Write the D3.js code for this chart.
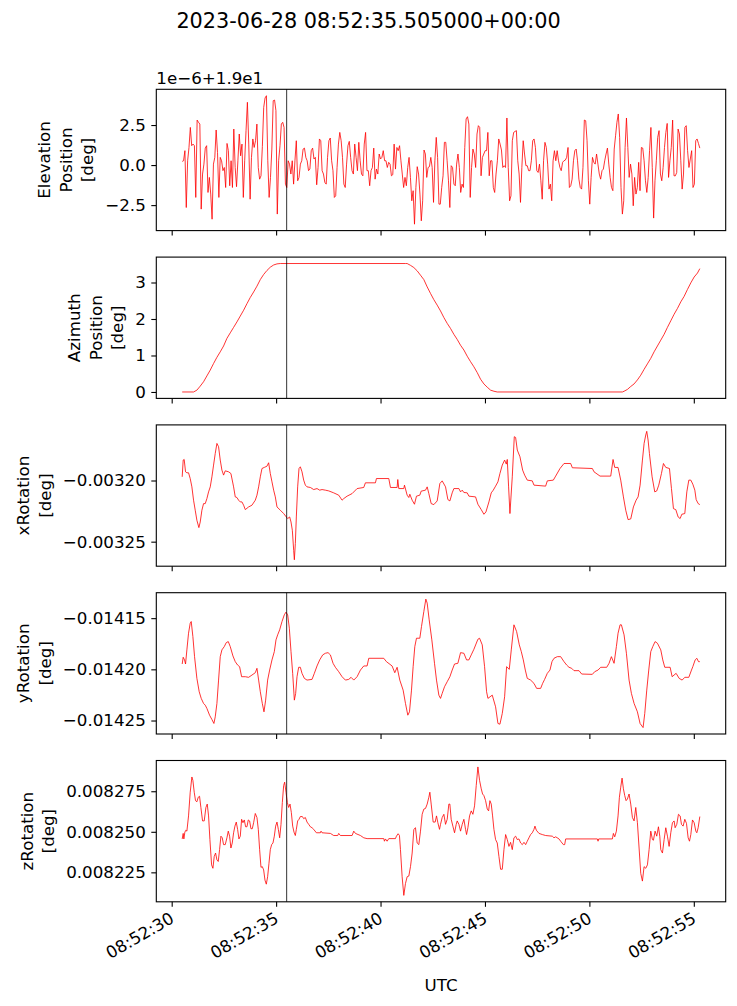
<!DOCTYPE html>
<html lang="en">
<head>
<meta charset="UTF-8">
<title>Mount position and rotation around 08:52:35</title>
<script src="https://d3js.org/d3.v7.min.js"></script>
<style>
  body { margin: 0; background: #fff; }
  svg { display: block; font-family: "DejaVu Sans", sans-serif; }
</style>
</head>
<body>
<svg id="chart" width="737" height="1006"></svg>
<script>
// time origin 2023-06-28 08:52:30 UTC, all times below are seconds after it
const t0 = Date.UTC(2023, 5, 28, 8, 52, 30);
const markerSec = 5.505;
const titleText = "2023-06-28 08:52:35.505000+00:00";
const xTickSecs = [0, 5, 10, 15, 20, 25];

// elevation, 1e-6 deg above 19 deg, evenly sampled between these two times
const elevFirst = 0.503, elevLast = 25.288;
const elevation = [
  0.23,0.27,0.90,-2.65,0.27,1.10,2.35,1.21,1.31,1.21,
  -2.02,2.81,2.67,2.56,-2.75,-0.56,0.06,1.06,1.21,-1.71,
  -0.77,-1.81,-3.38,0.06,0.48,2.19,0.79,-2.02,0.48,0.27,
  -0.35,-0.15,-1.40,1.35,0.90,-1.29,0.27,-1.40,2.25,-0.15,
  -1.35,0.27,1.94,0.58,1.31,-2.02,0.27,2.15,3.92,1.31,
  -2.13,0.48,1.63,1.10,1.52,2.56,-0.15,-0.88,-0.67,1.15,
  3.60,4.19,4.33,0.27,-2.02,-0.77,1.00,4.02,4.06,3.40,
  -3.06,0.27,1.21,2.56,2.67,2.35,-1.19,-1.40,0.27,0.06,
  -0.56,0.27,-1.19,0.27,1.52,-0.98,-0.77,0.06,0.27,1.00,
  1.06,0.48,0.27,-0.35,-0.25,0.90,1.06,0.38,0.48,-1.23,
  -0.15,1.63,1.52,-0.35,-0.56,-1.08,-1.19,0.48,1.52,1.69,
  0.27,-0.35,-2.02,-1.92,-0.15,1.31,2.04,1.52,0.48,-1.19,
  -1.40,0.06,1.21,1.48,0.48,-0.35,-0.56,1.31,0.48,-0.35,
  1.42,
  0.27,-0.56,-0.67,1.31,2.04,-0.35,-0.35,-1.29,-0.35,-0.15,
  1.06,-0.88,-0.25,-0.56,0.69,0.38,0.48,0.90,0.27,0.27,
  -0.15,0.17,0.06,-0.67,-0.60,1.31,-0.25,1.10,0.90,1.21,
  0.27,-0.56,-1.40,-0.77,-1.29,-0.15,0.48,-0.77,-2.23,-1.60,
  -3.69,-1.40,-0.10,-0.56,-1.81,-3.48,-2.23,0.94,0.69,-0.77,
  -0.15,-0.10,0.48,-0.15,-2.33,0.27,1.73,0.48,-2.44,-2.44,
  -1.40,-0.67,1.42,1.42,0.27,-0.98,-2.65,-0.04,-0.15,-1.19,
  -1.29,0.06,0.69,-0.15,-1.71,-1.19,-1.40,1.10,2.88,3.02,
  2.56,-2.02,-0.15,1.00,0.69,-0.15,1.94,2.46,2.35,-0.67,
  0.48,0.69,0.90,0.90,2.04,-0.67,0.27,0.27,-1.40,-1.71,
  -0.56,0.27,1.63,1.31,0.94,-0.15,-0.04,-0.15,2.94,-0.15,
  -2.23,-1.92,1.52,2.04,2.10,2.15,0.27,-0.56,-2.33,-0.15,
  1.52,0.69,-0.04,-0.04,-0.35,-0.35,0.27,1.52,1.63,1.10,
  -0.35,-0.46,0.06,-0.98,-2.13,0.27,1.42,1.10,0.06,-1.50,
  -1.19,-2.23,0.27,0.90,0.27,0.90,0.27,-0.15,-0.35,0.17,
  0.27,0.31,0.48,1.10,-1.40,-1.29,-0.88,0.27,0.90,1.00,
  0.27,-0.88,-1.40,-1.50,-0.15,2.81,2.77,1.52,-0.98,-2.44,
  -0.77,0.48,0.17,0.06,0.69,0.06,-0.56,-0.88,-0.35,-0.25,
  0.27,0.69,1.06,0.06,-0.77,-1.40,-1.60,1.00,1.83,2.67,
  3.19,1.73,-1.40,-3.06,-2.23,1.10,2.94,1.10,-0.77,0.06,
  -0.56,-2.54,-0.77,-1.81,-1.40,0.17,-1.60,1.10,1.06,0.27,
  -0.98,-1.71,-0.77,0.90,2.35,-0.15,-3.31,-0.98,0.27,1.73,
  2.15,-0.56,-0.98,-0.15,1.10,2.04,2.60,-0.77,0.27,1.10,
  2.81,-0.67,-0.67,-0.46,2.25,1.94,0.27,-1.50,-0.56,2.35,
  2.46,0.90,-0.15,0.38,0.90,-1.40,-1.19,1.52,1.63,1.35,
  1.06
];

// [seconds, deg]
const azimuth = [
  [0.503,0],[1.047,0],[1.206,0.05],[1.366,0.16],[1.526,0.28],[1.686,0.44],[1.846,0.60],
  [2.005,0.78],[2.165,0.95],[2.325,1.10],[2.485,1.26],[2.645,1.47],[2.804,1.62],[2.964,1.77],
  [3.124,1.92],[3.284,2.08],[3.444,2.24],[3.604,2.42],[3.763,2.59],[3.923,2.74],[4.083,2.90],
  [4.243,3.08],[4.403,3.22],[4.562,3.33],[4.722,3.42],[4.882,3.48],[5.042,3.51],[5.202,3.52],
  [11.194,3.52],[11.274,3.52],[11.434,3.47],[11.594,3.41],[11.753,3.32],[11.913,3.20],
  [12.073,3.08],[12.233,2.88],[12.393,2.70],[12.552,2.53],[12.712,2.38],[12.872,2.22],
  [13.032,2.04],[13.192,1.88],[13.352,1.74],[13.511,1.58],[13.671,1.44],[13.831,1.28],
  [13.991,1.15],[14.151,0.98],[14.310,0.83],[14.470,0.69],[14.630,0.53],[14.790,0.35],
  [14.950,0.22],[15.110,0.13],[15.269,0.05],[15.429,0.02],[15.589,0],[21.580,0],
  [21.660,0.02],[21.820,0.07],[21.979,0.15],[22.139,0.22],[22.299,0.33],[22.459,0.46],
  [22.619,0.62],[22.778,0.77],[22.938,0.92],[23.098,1.10],[23.258,1.26],[23.418,1.42],
  [23.578,1.58],[23.737,1.77],[23.897,1.95],[24.057,2.13],[24.217,2.29],[24.377,2.47],
  [24.537,2.62],[24.696,2.81],[24.856,2.99],[25.016,3.15],[25.176,3.26],[25.288,3.38]
];

const xRotation = [
  [0.503,-0.0031970],[0.551,-0.0031833],[0.599,-0.0031828],[0.663,-0.0031929],[0.727,-0.0031937],
  [0.807,-0.0031937],[0.887,-0.0031984],[0.967,-0.0032052],[1.047,-0.0032161],[1.127,-0.0032243],
  [1.206,-0.0032325],[1.302,-0.0032385],[1.366,-0.0032339],[1.446,-0.0032243],[1.526,-0.0032189],
  [1.606,-0.0032189],[1.686,-0.0032148],[1.766,-0.0032093],[1.846,-0.0032052],[1.926,-0.0031970],
  [2.005,-0.0031874],[2.085,-0.0031779],[2.165,-0.0031697],[2.245,-0.0031724],[2.325,-0.0031833],
  [2.405,-0.0031915],[2.485,-0.0031956],[2.565,-0.0031921],[2.725,-0.0031929],[2.836,-0.0031943],
  [2.964,-0.0032052],[3.044,-0.0032134],[3.124,-0.0032139],[3.204,-0.0032161],[3.284,-0.0032175],
  [3.364,-0.0032175],[3.444,-0.0032202],[3.524,-0.0032238],[3.683,-0.0032216],[3.843,-0.0032202],
  [4.003,-0.0032161],[4.083,-0.0032120],[4.163,-0.0032052],[4.243,-0.0031970],[4.323,-0.0031902],
  [4.434,-0.0031893],[4.562,-0.0031883],[4.642,-0.0031855],[4.722,-0.0031943],[4.802,-0.0032011],
  [4.882,-0.0032079],[4.962,-0.0032134],[5.042,-0.0032216],[5.202,-0.0032243],[5.361,-0.0032270],
  [5.489,-0.0032298],[5.553,-0.0032311],[5.649,-0.0032298],[5.713,-0.0032339],[5.777,-0.0032407],
  [5.841,-0.0032571],[5.873,-0.0032648],[5.920,-0.0032516],[5.968,-0.0032298],[6.032,-0.0032052],
  [6.096,-0.0031902],[6.160,-0.0031888],[6.240,-0.0031929],[6.320,-0.0031997],[6.400,-0.0032038],
  [6.480,-0.0032052],[6.640,-0.0032057],[6.800,-0.0032074],[6.959,-0.0032066],[7.087,-0.0032079],
  [7.199,-0.0032074],[7.359,-0.0032079],[7.519,-0.0032085],[7.758,-0.0032101],[7.998,-0.0032120],
  [8.158,-0.0032161],[8.238,-0.0032148],[8.398,-0.0032128],[8.638,-0.0032107],[8.877,-0.0032066],
  [9.196,-0.0032057],[9.276,-0.0032019],[9.755,-0.0032019],[9.803,-0.0031984],[10.395,-0.0031984],
  [10.475,-0.0032057],[10.794,-0.0032057],[10.826,-0.0031992],[10.874,-0.0032066],[11.114,-0.0032066],
  [11.146,-0.0032038],[11.274,-0.0032120],[11.354,-0.0032139],[11.402,-0.0032112],[11.514,-0.0032161],
  [11.625,-0.0032194],[11.721,-0.0032128],[11.881,-0.0032120],[11.945,-0.0032087],[12.153,-0.0032079],
  [12.233,-0.0032052],[12.313,-0.0032107],[12.425,-0.0032189],[12.552,-0.0032197],[12.712,-0.0032167],
  [12.840,-0.0032025],[12.952,-0.0032003],[13.112,-0.0032052],[13.224,-0.0032156],[13.320,-0.0032167],
  [13.431,-0.0032101],[13.511,-0.0032066],[13.751,-0.0032066],[13.831,-0.0032093],[13.911,-0.0032079],
  [13.991,-0.0032098],[14.151,-0.0032101],[14.231,-0.0032128],[14.550,-0.0032134],[14.662,-0.0032194],
  [14.822,-0.0032238],[14.950,-0.0032276],[15.046,-0.0032257],[15.189,-0.0032175],[15.301,-0.0032101],
  [15.397,-0.0032079],[15.509,-0.0032046],[15.621,-0.0032011],[15.717,-0.0031943],[15.829,-0.0031874],
  [15.941,-0.0031833],[16.021,-0.0031866],[16.068,-0.0031828],[16.132,-0.0032052],[16.196,-0.0032270],
  [16.308,-0.0031970],[16.404,-0.0031642],[16.468,-0.0031648],[16.548,-0.0031751],[16.676,-0.0031806],
  [16.804,-0.0031915],[16.900,-0.0031956],[17.026,-0.0031997],[17.266,-0.0032003],[17.346,-0.0032038],
  [17.905,-0.0032046],[17.985,-0.0032003],[18.273,-0.0031997],[18.385,-0.0031964],[18.593,-0.0031902],
  [18.784,-0.0031861],[19.104,-0.0031861],[19.184,-0.0031896],[20.142,-0.0031902],[20.222,-0.0031929],
  [20.510,-0.0031964],[21.022,-0.0031964],[21.133,-0.0031828],[21.213,-0.0031893],[21.373,-0.0031893],
  [21.501,-0.0031997],[21.629,-0.0032134],[21.741,-0.0032243],[21.853,-0.0032320],[21.981,-0.0032314],
  [22.108,-0.0032216],[22.236,-0.0032161],[22.332,-0.0032134],[22.428,-0.0032038],[22.540,-0.0031833],
  [22.620,-0.0031697],[22.699,-0.0031628],[22.747,-0.0031598],[22.811,-0.0031669],[22.875,-0.0031779],
  [23.003,-0.0031970],[23.130,-0.0032093],[23.226,-0.0032085],[23.322,-0.0032038],[23.450,-0.0031943],
  [23.546,-0.0031861],[23.658,-0.0031893],[23.834,-0.0031902],[23.930,-0.0032066],[24.025,-0.0032230],
  [24.137,-0.0032238],[24.249,-0.0032298],[24.345,-0.0032311],[24.425,-0.0032276],[24.569,-0.0032270],
  [24.665,-0.0032093],[24.761,-0.0031997],[24.857,-0.0031997],[24.953,-0.0032030],[25.049,-0.0032079],
  [25.113,-0.0032156],[25.209,-0.0032189],[25.288,-0.0032197]
];

const yRotation = [
  [0.503,-0.0141948],[0.551,-0.0141882],[0.615,-0.0141908],[0.663,-0.0141948],[0.727,-0.0141810],
  [0.807,-0.0141647],[0.887,-0.0141549],[0.935,-0.0141533],[1.015,-0.0141680],[1.095,-0.0141876],
  [1.206,-0.0142088],[1.318,-0.0142219],[1.414,-0.0142284],[1.526,-0.0142333],[1.606,-0.0142350],
  [1.686,-0.0142382],[1.814,-0.0142448],[1.926,-0.0142490],[2.021,-0.0142529],[2.085,-0.0142464],
  [2.165,-0.0142333],[2.245,-0.0142105],[2.325,-0.0141876],[2.405,-0.0141810],[2.517,-0.0141778],
  [2.613,-0.0141739],[2.709,-0.0141729],[2.804,-0.0141778],[2.932,-0.0141869],[3.044,-0.0141925],
  [3.156,-0.0141958],[3.252,-0.0141974],[3.348,-0.0142072],[3.524,-0.0142072],[3.683,-0.0142078],
  [3.843,-0.0142056],[4.003,-0.0142033],[4.083,-0.0141990],[4.163,-0.0142105],[4.243,-0.0142219],
  [4.339,-0.0142333],[4.419,-0.0142415],[4.499,-0.0142301],[4.594,-0.0142105],[4.690,-0.0142007],
  [4.802,-0.0141908],[4.914,-0.0141827],[4.994,-0.0141712],[5.074,-0.0141663],[5.170,-0.0141614],
  [5.282,-0.0141533],[5.393,-0.0141467],[5.473,-0.0141441],[5.553,-0.0141467],[5.633,-0.0141598],
  [5.713,-0.0141827],[5.793,-0.0142039],[5.873,-0.0142301],[5.936,-0.0142235],[6.000,-0.0142072],
  [6.080,-0.0141980],[6.160,-0.0141980],[6.240,-0.0142039],[6.352,-0.0142088],[6.480,-0.0142105],
  [6.720,-0.0142098],[6.831,-0.0142039],[6.959,-0.0141967],[7.087,-0.0141908],[7.231,-0.0141859],
  [7.359,-0.0141843],[7.487,-0.0141837],[7.599,-0.0141859],[7.726,-0.0141941],[7.838,-0.0141980],
  [7.998,-0.0142023],[8.158,-0.0142072],[8.318,-0.0142105],[8.478,-0.0142098],[8.590,-0.0142078],
  [8.718,-0.0142105],[8.877,-0.0142072],[9.037,-0.0142007],[9.197,-0.0141967],
  [9.356,-0.0141967],[9.436,-0.0141892],[10.155,-0.0141892],[10.283,-0.0141925],[10.554,-0.0141967],
  [10.682,-0.0142033],[10.794,-0.0141980],[10.922,-0.0142105],[11.082,-0.0142203],[11.194,-0.0142333],
  [11.306,-0.0142448],[11.386,-0.0142415],[11.482,-0.0142203],[11.561,-0.0141974],[11.641,-0.0141778],
  [11.721,-0.0141696],[11.881,-0.0141696],[11.961,-0.0141582],[12.073,-0.0141435],[12.169,-0.0141314],
  [12.233,-0.0141353],[12.329,-0.0141516],[12.456,-0.0141712],[12.584,-0.0141941],[12.680,-0.0142105],
  [12.792,-0.0142252],[12.872,-0.0142284],[12.952,-0.0142235],[13.064,-0.0142170],[13.192,-0.0142121],
  [13.320,-0.0142072],[13.431,-0.0142007],[13.543,-0.0141948],[13.703,-0.0141941],[13.831,-0.0141837],
  [13.991,-0.0141843],[14.119,-0.0141908],[14.231,-0.0141908],[14.342,-0.0141859],[14.470,-0.0141804],
  [14.662,-0.0141706],[14.742,-0.0141696],[14.870,-0.0141761],[14.982,-0.0141974],[15.078,-0.0142219],
  [15.142,-0.0142284],[15.349,-0.0142252],[15.509,-0.0142366],[15.621,-0.0142529],[15.717,-0.0142536],
  [15.829,-0.0142431],[15.941,-0.0142268],[16.036,-0.0141974],[16.164,-0.0142000],[16.260,-0.0141810],
  [16.388,-0.0141565],[16.516,-0.0141631],[16.644,-0.0141761],[16.740,-0.0141827],[16.836,-0.0141908],
  [16.932,-0.0142007],[17.026,-0.0142088],[17.186,-0.0142105],[17.346,-0.0142137],[17.474,-0.0142186],
  [17.666,-0.0142186],[17.762,-0.0142137],[17.857,-0.0142098],[17.985,-0.0142039],[18.113,-0.0142007],
  [18.209,-0.0141925],[18.305,-0.0141892],[18.465,-0.0141876],[18.625,-0.0141876],[18.785,-0.0141925],
  [18.912,-0.0141958],[19.024,-0.0141980],[19.152,-0.0141990],[19.264,-0.0142013],[19.504,-0.0142013],
  [19.631,-0.0142046],[20.142,-0.0142049],[20.254,-0.0142023],[20.414,-0.0142007],[20.542,-0.0141980],
  [20.830,-0.0141980],[20.942,-0.0141941],[21.053,-0.0141876],[21.181,-0.0141941],[21.293,-0.0141778],
  [21.373,-0.0141647],[21.469,-0.0141565],[21.533,-0.0141565],[21.661,-0.0141663],[21.773,-0.0141843],
  [21.900,-0.0142105],[22.012,-0.0142235],[22.140,-0.0142333],[22.299,-0.0142415],[22.427,-0.0142529],
  [22.571,-0.0142569],[22.651,-0.0142431],[22.747,-0.0142203],[22.843,-0.0142007],[22.939,-0.0141827],
  [23.035,-0.0141778],[23.146,-0.0141729],[23.258,-0.0141745],[23.418,-0.0141810],[23.514,-0.0141908],
  [23.610,-0.0141980],[23.866,-0.0141980],[23.962,-0.0142072],[24.153,-0.0142039],[24.297,-0.0142088],
  [24.441,-0.0142105],[24.569,-0.0142078],[24.761,-0.0142078],[24.889,-0.0142007],[24.953,-0.0141974],
  [25.065,-0.0141908],[25.145,-0.0141892],[25.225,-0.0141925],[25.288,-0.0141925]
];

const zRotation = [
  [0.503,0.0082456],[0.551,0.0082490],[0.583,0.0082456],[0.631,0.0082498],[0.679,0.0082510],
  [0.727,0.0082504],[0.807,0.0082598],[0.887,0.0082744],[0.967,0.0082838],[1.015,0.0082817],
  [1.079,0.0082744],[1.142,0.0082692],[1.206,0.0082685],[1.270,0.0082713],[1.334,0.0082719],
  [1.398,0.0082650],[1.478,0.0082567],[1.558,0.0082567],[1.638,0.0082650],[1.702,0.0082671],
  [1.766,0.0082598],[1.830,0.0082452],[1.910,0.0082296],[1.974,0.0082275],[2.037,0.0082348],
  [2.101,0.0082369],[2.165,0.0082327],[2.229,0.0082317],[2.293,0.0082390],[2.357,0.0082473],
  [2.421,0.0082463],[2.485,0.0082421],[2.565,0.0082421],[2.645,0.0082463],[2.709,0.0082504],
  [2.773,0.0082473],[2.836,0.0082400],[2.900,0.0082431],[2.964,0.0082494],[3.028,0.0082535],
  [3.092,0.0082560],[3.156,0.0082515],[3.220,0.0082456],[3.284,0.0082473],[3.348,0.0082577],
  [3.412,0.0082556],[3.476,0.0082573],[3.540,0.0082531],[3.604,0.0082531],[3.667,0.0082573],
  [3.731,0.0082567],[3.795,0.0082519],[3.859,0.0082519],[3.923,0.0082556],[4.003,0.0082613],
  [4.083,0.0082588],[4.147,0.0082515],[4.211,0.0082390],[4.275,0.0082281],[4.339,0.0082285],
  [4.403,0.0082265],[4.467,0.0082202],[4.530,0.0082177],[4.594,0.0082223],[4.658,0.0082306],
  [4.722,0.0082390],[4.786,0.0082421],[4.850,0.0082431],[4.914,0.0082473],[4.978,0.0082535],
  [5.042,0.0082560],[5.106,0.0082515],[5.170,0.0082463],[5.234,0.0082546],[5.298,0.0082681],
  [5.361,0.0082785],[5.409,0.0082806],[5.473,0.0082744],[5.537,0.0082681],[5.601,0.0082650],
  [5.665,0.0082671],[5.729,0.0082619],[5.793,0.0082535],[5.857,0.0082498],[5.920,0.0082477],
  [5.968,0.0082515],[6.032,0.0082567],[6.096,0.0082577],[6.160,0.0082594],[6.256,0.0082594],
  [6.320,0.0082581],[6.400,0.0082588],[6.480,0.0082560],[6.560,0.0082546],[6.640,0.0082531],
  [6.720,0.0082525],[6.800,0.0082515],[6.927,0.0082494],[7.119,0.0082494],[7.151,0.0082504],
  [7.199,0.0082494],[7.599,0.0082490],[7.758,0.0082477],[7.950,0.0082477],[7.998,0.0082490],
  [8.078,0.0082477],[8.638,0.0082477],[8.718,0.0082504],[8.798,0.0082490],[9.037,0.0082477],
  [9.197,0.0082463],
  [9.356,0.0082458],[10.155,0.0082458],[10.187,0.0082442],[10.235,0.0082456],[10.315,0.0082442],
  [10.395,0.0082458],[10.714,0.0082458],[10.762,0.0082473],[10.842,0.0082488],[10.906,0.0082477],
  [10.954,0.0082390],[11.034,0.0082223],[11.114,0.0082108],[11.194,0.0082181],[11.274,0.0082223],
  [11.354,0.0082227],[11.434,0.0082285],[11.514,0.0082369],[11.594,0.0082515],[11.673,0.0082525],
  [11.753,0.0082431],[11.833,0.0082421],[11.913,0.0082504],[11.993,0.0082608],[12.073,0.0082640],
  [12.153,0.0082644],[12.233,0.0082671],[12.313,0.0082713],[12.361,0.0082744],[12.425,0.0082671],
  [12.520,0.0082560],[12.616,0.0082560],[12.680,0.0082598],[12.744,0.0082556],[12.824,0.0082515],
  [12.872,0.0082546],[12.952,0.0082588],[13.032,0.0082608],[13.112,0.0082546],[13.192,0.0082577],
  [13.271,0.0082671],[13.319,0.0082671],[13.383,0.0082577],[13.463,0.0082535],[13.543,0.0082494],
  [13.623,0.0082546],[13.671,0.0082567],[13.751,0.0082546],[13.831,0.0082504],[13.911,0.0082546],
  [13.991,0.0082577],[14.071,0.0082515],[14.119,0.0082483],[14.183,0.0082525],[14.262,0.0082598],
  [14.342,0.0082629],[14.422,0.0082608],[14.502,0.0082660],[14.582,0.0082785],[14.662,0.0082900],
  [14.742,0.0082817],[14.822,0.0082765],[14.886,0.0082733],[14.950,0.0082723],[15.030,0.0082692],
  [15.110,0.0082640],[15.174,0.0082629],[15.237,0.0082692],[15.301,0.0082671],[15.365,0.0082598],
  [15.429,0.0082515],[15.509,0.0082452],[15.589,0.0082431],[15.669,0.0082348],[15.749,0.0082269],
  [15.829,0.0082269],[15.909,0.0082390],[15.989,0.0082483],[16.068,0.0082452],[16.148,0.0082410],
  [16.228,0.0082435],[16.308,0.0082390],[16.388,0.0082463],[16.468,0.0082473],[16.548,0.0082452],
  [16.628,0.0082456],[16.708,0.0082431],[16.788,0.0082421],[16.868,0.0082435],[16.948,0.0082421],
  [17.026,0.0082442],[17.106,0.0082463],[17.186,0.0082483],[17.266,0.0082494],[17.346,0.0082515],
  [17.394,0.0082535],[17.458,0.0082510],[17.586,0.0082490],[17.746,0.0082483],[17.905,0.0082477],
  [18.225,0.0082473],[18.305,0.0082463],[18.385,0.0082469],[18.545,0.0082456],[18.625,0.0082442],
  [18.753,0.0082421],[18.817,0.0082421],[18.865,0.0082456],[20.382,0.0082456],[20.414,0.0082442],
  [20.446,0.0082456],[21.101,0.0082456],[21.149,0.0082490],[21.213,0.0082469],[21.293,0.0082504],
  [21.373,0.0082598],[21.437,0.0082713],[21.501,0.0082775],[21.565,0.0082831],[21.629,0.0082765],
  [21.693,0.0082723],[21.757,0.0082692],[21.821,0.0082702],[21.900,0.0082733],[21.980,0.0082671],
  [22.060,0.0082588],[22.140,0.0082567],[22.220,0.0082650],[22.300,0.0082556],[22.380,0.0082400],
  [22.459,0.0082244],[22.539,0.0082196],[22.619,0.0082285],[22.699,0.0082275],[22.779,0.0082296],
  [22.859,0.0082390],[22.939,0.0082504],[23.019,0.0082452],[23.067,0.0082448],[23.146,0.0082504],
  [23.226,0.0082473],[23.306,0.0082531],[23.370,0.0082473],[23.418,0.0082390],[23.498,0.0082369],
  [23.578,0.0082452],[23.658,0.0082525],[23.738,0.0082473],[23.818,0.0082410],[23.898,0.0082494],
  [23.977,0.0082556],[24.057,0.0082567],[24.105,0.0082525],[24.185,0.0082546],[24.265,0.0082608],
  [24.345,0.0082598],[24.409,0.0082546],[24.489,0.0082535],[24.569,0.0082577],[24.649,0.0082552],
  [24.729,0.0082463],[24.793,0.0082442],[24.857,0.0082483],[24.937,0.0082573],[25.016,0.0082556],
  [25.096,0.0082504],[25.144,0.0082494],[25.208,0.0082525],[25.288,0.0082594]
];

// tick values per panel
const elevTicks = [-2.5, 0, 2.5];
const azTicks = [0, 1, 2, 3];
const xRotTicks = [-0.00325, -0.0032];
const yRotTicks = [-0.01425, -0.0142, -0.01415];
const zRotTicks = [0.008225, 0.00825, 0.008275];

const elevStep = (elevLast - elevFirst) / (elevation.length - 1);
const elevPairs = elevation.map((v, i) => [elevFirst + i * elevStep, v]);

const panels = [
  { label: ["Elevation", "Position", "[deg]"], data: elevPairs, ticks: elevTicks, fmt: d3.format(".1f"), offset: "1e\u22126+1.9e1" },
  { label: ["Azimuth", "Position", "[deg]"], data: azimuth, ticks: azTicks, fmt: d3.format("d") },
  { label: ["xRotation", "[deg]"], data: xRotation, ticks: xRotTicks, fmt: d3.format(".5f") },
  { label: ["yRotation", "[deg]"], data: yRotation, ticks: yRotTicks, fmt: d3.format(".5f") },
  { label: ["zRotation", "[deg]"], data: zRotation, ticks: zRotTicks, fmt: d3.format(".6f") }
];

const left = 156.3, right = 725.7;
const top0 = 89.3, step = 167.8, ph = 141.3;
const fs = 16.7;
const toDate = s => new Date(t0 + s * 1000);

const svg = d3.select("#chart");

// shared x, 5% margin like matplotlib
const allT = panels.flatMap(p => p.data.map(d => d[0]));
const [tMin, tMax] = d3.extent(allT);
const tPad = (tMax - tMin) * 0.05;
const x = d3.scaleUtc()
  .domain([toDate(tMin - tPad), toDate(tMax + tPad)])
  .range([left, right]);

svg.append("text")
  .attr("x", 368.5).attr("y", 28)
  .attr("text-anchor", "middle")
  .attr("font-size", 20.8)
  .text(titleText);

panels.forEach((p, i) => {
  const top = top0 + i * step;
  const g = svg.append("g").attr("transform", `translate(0,${top})`);
  const ext = d3.extent(p.data, d => d[1]);
  const pad = (ext[1] - ext[0]) * 0.05;
  const y = d3.scaleLinear().domain([ext[0] - pad, ext[1] + pad]).range([ph, 0]);

  const line = d3.line().x(d => x(toDate(d[0]))).y(d => y(d[1]));
  g.append("path")
    .datum(p.data)
    .attr("d", line)
    .attr("fill", "none")
    .attr("stroke", "#ff0000")
    .attr("stroke-width", 0.8)
    .attr("stroke-linejoin", "round");

  g.append("line")
    .attr("x1", x(toDate(markerSec))).attr("x2", x(toDate(markerSec)))
    .attr("y1", 0).attr("y2", ph)
    .attr("stroke", "#000").attr("stroke-width", 0.8);

  const yAx = g.append("g")
    .attr("transform", `translate(${left},0)`)
    .call(d3.axisLeft(y).tickValues(p.ticks).tickFormat(p.fmt).tickSize(5).tickPadding(5.5));
  yAx.select(".domain").remove();
  yAx.attr("font-family", null).attr("font-size", fs);
  yAx.selectAll("line").attr("stroke", "#000").attr("stroke-width", 1.1);

  const last = i === panels.length - 1;
  const xAx = g.append("g")
    .attr("transform", `translate(0,${ph})`)
    .call(d3.axisBottom(x)
      .tickValues(xTickSecs.map(toDate))
      .tickSize(5)
      .tickFormat(last ? d3.utcFormat("%H:%M:%S") : () => ""));
  xAx.select(".domain").remove();
  xAx.attr("font-family", null).attr("font-size", fs);
  xAx.selectAll("line").attr("stroke", "#000").attr("stroke-width", 1.1);
  if (last) {
    xAx.selectAll("text")
      .attr("x", 0).attr("y", 0).attr("dy", 0)
      .attr("text-anchor", "end")
      .attr("transform", "translate(3,20) rotate(-30)");
  }

  g.append("rect")
    .attr("x", left).attr("y", 0)
    .attr("width", right - left).attr("height", ph)
    .attr("fill", "none").attr("stroke", "#000").attr("stroke-width", 1.1);

  if (p.offset) {
    g.append("text")
      .attr("x", left).attr("y", -5.5)
      .attr("font-size", fs)
      .text(p.offset);
  }

  // multi-line y label, last line sits next to the tick labels
  const bb = yAx.node().getBBox();
  const lastX = left + bb.x - 18;
  p.label.forEach((txt, k) => {
    const lx = lastX - (p.label.length - 1 - k) * 21.5;
    g.append("text")
      .attr("transform", `translate(${lx},${ph / 2}) rotate(-90)`)
      .attr("text-anchor", "middle")
      .attr("dominant-baseline", "central")
      .attr("font-size", fs)
      .text(txt);
  });
});

svg.append("text")
  .attr("x", (left + right) / 2).attr("y", 991)
  .attr("text-anchor", "middle")
  .attr("font-size", fs)
  .text("UTC");
</script>
</body>
</html>
